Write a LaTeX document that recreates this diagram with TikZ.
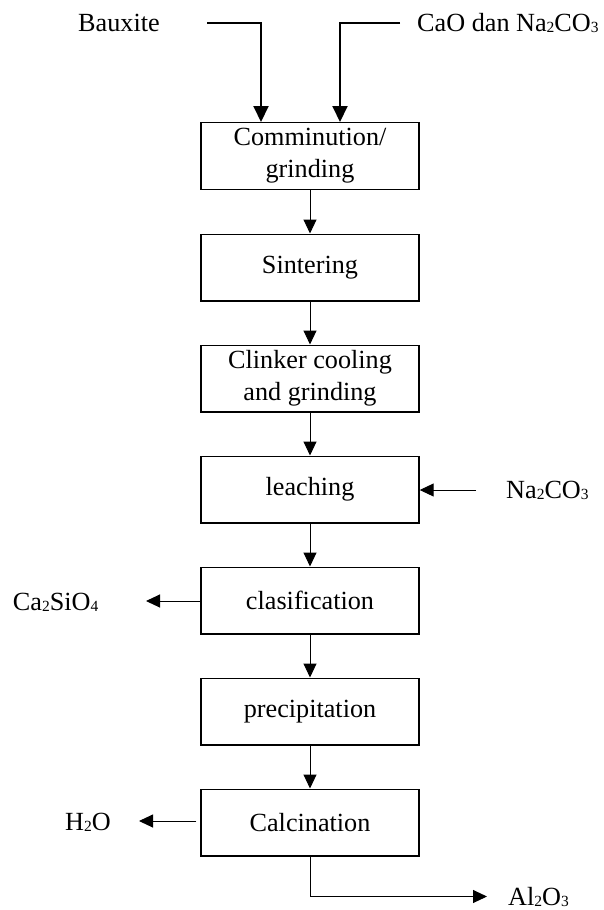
\documentclass[tikz,border=0pt]{standalone}
\usepackage{fontspec}
\setmainfont{Liberation Serif}
\usetikzlibrary{arrows.meta}
\newcommand{\chsub}[1]{{\fontsize{15.5}{15}\selectfont\raisebox{-1pt}{#1}}}
\begin{document}
\begin{tikzpicture}[x=1pt,y=-1pt,
  proc/.style={draw, line width=1.4pt, minimum width=218pt, minimum height=66.6pt, inner sep=0pt, align=center, font=\fontsize{26.2}{32}\selectfont},
  lbl/.style={anchor=base west, inner sep=0pt, font=\fontsize{26.2}{32}\selectfont},
  flow/.style={line width=1pt, -{Triangle[length=14pt,width=13pt]}},
  feed/.style={line width=2pt, -{Triangle[length=16pt,width=15pt]}}]
\useasboundingbox[fill=white] (0,0) rectangle (603,910);

\node[proc] (b1) at (310,156)   {Comminution/\\grinding};
\node[proc] (b2) at (310,267.5) {Sintering};
\node[proc] (b3) at (310,378.5) {Clinker cooling\\and grinding};
\node[proc] (b4) at (310,489.5) {leaching};
\node[proc] (b5) at (310,600.5) {clasification};
\node[proc] (b6) at (310,711.5) {precipitation};
\node[proc] (b7) at (310,822.5) {Calcination};

\node[lbl] (bx)  at (78,31)  {Bauxite};
\node[lbl] (cao) at (417,31) {CaO dan Na\chsub{2}CO\chsub{3}};
\node[lbl] (na)  at (506,498) {Na\chsub{2}CO\chsub{3}};
\node[lbl] (cs)  at (12.7,610) {Ca\chsub{2}SiO\chsub{4}};
\node[lbl] (h2o) at (65,830) {H\chsub{2}O};
\node[lbl] (al)  at (508,905) {Al\chsub{2}O\chsub{3}};

\coordinate (bxs) at (207,23.3);
\coordinate (cas) at (400,23.3);
\coordinate (nas) at (476,490);
\coordinate (cse) at (146,601);
\coordinate (hse) at (139,821);
\coordinate (ale) at (487,896.5);

\draw[feed] (bxs) -| ([xshift=-49pt]b1.north);
\draw[feed] (cas) -| ([xshift=30pt]b1.north);

\draw[flow] (b1) -- (b2);
\draw[flow] (b2) -- (b3);
\draw[flow] (b3) -- (b4);
\draw[flow] (b4) -- (b5);
\draw[flow] (b5) -- (b6);
\draw[flow] (b6) -- (b7);

\draw[flow] (nas) -- (nas -| b4.east);
\draw[flow] (cse -| b5.west) -- (cse);
\draw[flow] ([xshift=-4pt]hse -| b7.west) -- (hse);
\draw[flow] (b7.south) |- (ale);
\end{tikzpicture}
\end{document}
